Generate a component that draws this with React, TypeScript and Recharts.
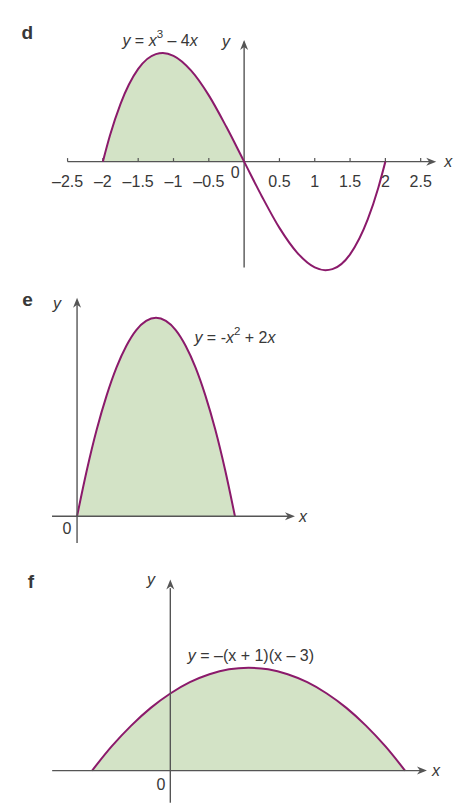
import { ComposedChart, Line, Area, XAxis, YAxis, ReferenceLine, ReferenceDot } from 'recharts';

// panel d: y = x^3 - 4x
const dX = [-2, -1.9, -1.75, -1.5, -1.25, -1.15, -1, -0.75, -0.5, -0.25, 0, 0.25, 0.5, 0.75, 1, 1.15, 1.25, 1.5, 1.75, 1.9, 2];
const dY = [0, 0.74, 1.64, 2.63, 3.05, 3.08, 3, 2.58, 1.88, 0.98, 0, -0.98, -1.88, -2.58, -3, -3.08, -3.05, -2.63, -1.64, -0.74, 0];
const dTicks = [-2.5, -2, -1.5, -1, -0.5, 0.5, 1, 1.5, 2, 2.5];
const dTickLabels = ['–2.5', '–2', '–1.5', '–1', '–0.5', '0.5', '1', '1.5', '2', '2.5'];

// panel e: y = -x^2 + 2x
const eX = [0, 0.125, 0.25, 0.375, 0.5, 0.625, 0.75, 0.875, 1, 1.125, 1.25, 1.375, 1.5, 1.625, 1.75, 1.875, 2];
const eY = [0, 0.234, 0.438, 0.609, 0.75, 0.859, 0.938, 0.984, 1, 0.984, 0.938, 0.859, 0.75, 0.609, 0.438, 0.234, 0];

// panel f: y = -(x + 1)(x - 3)
const fX = [-1, -0.75, -0.5, -0.25, 0, 0.25, 0.5, 0.75, 1, 1.25, 1.5, 1.75, 2, 2.25, 2.5, 2.75, 3];
const fY = [0, 0.94, 1.75, 2.44, 3, 3.44, 3.75, 3.94, 4, 3.94, 3.75, 3.44, 3, 2.44, 1.75, 0.94, 0];

const CURVE = '#8b1a6b';
const FILL = '#d3e3c6';
const AXIS = '#555';
const INK = '#383838';
const FONT = '"Liberation Sans", Arial, sans-serif';

type Part = { t: string; i?: boolean; sup?: boolean };

const toPoints = (xs: number[], ys: number[]) => xs.map((x, i) => ({ x, y: ys[i] }));

const dData = toPoints(dX, dY);
const dShade = dData.filter((p) => p.x <= 0);
const eData = toPoints(eX, eY);
const fData = toPoints(fX, fY);

function renderParts(parts: Part[], size: number) {
  let lift = 0;
  return parts.map((p, i) => {
    if (p.sup) {
      lift = size * 0.4;
      return (
        <tspan key={i} dy={-lift} fontSize={size * 0.72}>
          {p.t}
        </tspan>
      );
    }
    const back = lift;
    lift = 0;
    return (
      <tspan key={i} dy={back} fontStyle={p.i ? 'italic' : 'normal'}>
        {p.t}
      </tspan>
    );
  });
}

// text anchored at a data point, shifted by pixels
function note(key: string, x: number, y: number, parts: Part[] | string, opts: any = {}) {
  const { size = 16, anchor = 'middle', weight = 400, italic = false, dx = 0, dy = 0 } = opts;
  return (
    <ReferenceDot
      key={key}
      x={x}
      y={y}
      r={0}
      fill="none"
      stroke="none"
      shape={(p: any) => (
        <text
          x={p.cx + dx}
          y={p.cy + dy}
          textAnchor={anchor}
          dominantBaseline="central"
          fontSize={size}
          fontFamily={FONT}
          fontWeight={weight}
          fontStyle={italic ? 'italic' : 'normal'}
          fill={INK}
          style={{ whiteSpace: 'pre' }}
        >
          {typeof parts === 'string' ? parts : renderParts(parts, size)}
        </text>
      )}
    />
  );
}

function arrow(key: string, x: number, y: number, dir: 'right' | 'up') {
  return (
    <ReferenceDot
      key={key}
      x={x}
      y={y}
      r={0}
      fill="none"
      stroke="none"
      shape={(p: any) => {
        const { cx, cy } = p;
        const pts =
          dir === 'right'
            ? `${cx},${cy} ${cx - 10},${cy - 4} ${cx - 7},${cy} ${cx - 10},${cy + 4}`
            : `${cx},${cy} ${cx - 4},${cy + 10} ${cx},${cy + 7} ${cx + 4},${cy + 10}`;
        return <polygon points={pts} fill={AXIS} />;
      }}
    />
  );
}

const box = (left: number, top: number): React.CSSProperties => ({ position: 'absolute', left, top });
const noMargin = { top: 0, right: 0, bottom: 0, left: 0 };

export default function App() {
  return (
    <div style={{ position: 'absolute', left: 0, top: 0, width: 456, height: 806, background: '#fff', overflow: 'hidden' }}>
      {/* d */}
      <div style={box(4, 3)}>
        <ComposedChart width={452} height={282} margin={noMargin}>
          <XAxis type="number" dataKey="x" domain={[-3.4, 3]} hide allowDataOverflow />
          <YAxis type="number" domain={[-3.5, 4.5]} hide allowDataOverflow />
          <Area data={dShade} dataKey="y" type="monotone" baseValue={0} fill={FILL} fillOpacity={1} stroke="none" isAnimationActive={false} />
          <ReferenceLine segment={[{ x: -2.5, y: 0 }, { x: 2.68, y: 0 }]} stroke={AXIS} strokeWidth={1.4} />
          <ReferenceLine segment={[{ x: 0, y: -3 }, { x: 0, y: 3.4 }]} stroke={AXIS} strokeWidth={1.4} />
          {dTicks.map((t) => (
            <ReferenceLine key={`dt${t}`} segment={[{ x: t, y: 0 }, { x: t, y: 0.1 }]} stroke={AXIS} strokeWidth={1.2} />
          ))}
          {dTicks.map((t, i) => note(`dl${t}`, t, 0, dTickLabels[i], { dy: 20 }))}
          <Line data={dData} dataKey="y" type="monotone" stroke={CURVE} strokeWidth={2} dot={false} isAnimationActive={false} />
          {arrow('dax', 2.72, 0, 'right')}
          {arrow('day', 0, 3.45, 'up')}
          {note('d0', 0, 0, '0', { dx: -9, dy: 11 })}
          {note('dxl', 2.89, 0, 'x', { italic: true })}
          {note('dyl', -0.255, 3.42, 'y', { italic: true })}
          {note('dlet', -3.07, 3.66, 'd', { size: 19, weight: 700 })}
          {note('dfx', -1.19, 3.45, [
            { t: 'y', i: true },
            { t: ' = ' },
            { t: 'x', i: true },
            { t: '3', sup: true },
            { t: ' – 4' },
            { t: 'x', i: true },
          ])}
        </ComposedChart>
      </div>

      {/* e */}
      <div style={box(6, 278)}>
        <ComposedChart width={450} height={278} margin={noMargin}>
          <XAxis type="number" dataKey="x" domain={[-0.9, 4.8]} hide allowDataOverflow />
          <YAxis type="number" domain={[-0.2, 1.2]} hide allowDataOverflow />
          <Area data={eData} dataKey="y" type="monotone" baseValue={0} fill={FILL} fillOpacity={1} stroke={CURVE} strokeWidth={2} isAnimationActive={false} />
          <ReferenceLine segment={[{ x: -0.317, y: 0 }, { x: 2.72, y: 0 }]} stroke={AXIS} strokeWidth={1.4} />
          <ReferenceLine segment={[{ x: 0, y: -0.134 }, { x: 0, y: 1.08 }]} stroke={AXIS} strokeWidth={1.4} />
          {arrow('eax', 2.76, 0, 'right')}
          {arrow('eay', 0, 1.1, 'up')}
          {note('e0', -0.127, -0.064, '0')}
          {note('exl', 2.862, 0, 'x', { italic: true })}
          {note('eyl', -0.254, 1.074, 'y', { italic: true })}
          {note('elet', -0.627, 1.094, 'e', { size: 19, weight: 700 })}
          {note('efx', 2.0, 0.903, [
            { t: 'y', i: true },
            { t: ' = -' },
            { t: 'x', i: true },
            { t: '2', sup: true },
            { t: ' + 2' },
            { t: 'x', i: true },
          ])}
        </ComposedChart>
      </div>

      {/* f */}
      <div style={box(6, 565)}>
        <ComposedChart width={446} height={239} margin={noMargin}>
          <XAxis type="number" dataKey="x" domain={[-2.1, 3.6]} hide allowDataOverflow />
          <YAxis type="number" domain={[-1.3, 8]} hide allowDataOverflow />
          <Area data={fData} dataKey="y" type="monotone" baseValue={0} fill={FILL} fillOpacity={1} stroke={CURVE} strokeWidth={2} isAnimationActive={false} />
          <ReferenceLine segment={[{ x: -1.51, y: 0 }, { x: 3.24, y: 0 }]} stroke={AXIS} strokeWidth={1.4} />
          <ReferenceLine segment={[{ x: 0, y: -1.25 }, { x: 0, y: 7.1 }]} stroke={AXIS} strokeWidth={1.4} />
          {arrow('fax', 3.28, 0, 'right')}
          {arrow('fay', 0, 7.44, 'up')}
          {note('f0', -0.119, -0.56, '0')}
          {note('fxl', 3.395, 0, 'x', { italic: true })}
          {note('fyl', -0.247, 7.455, 'y', { italic: true })}
          {note('flet', -1.78, 7.37, 'f', { size: 19, weight: 700 })}
          {note('ffx', 1.03, 4.5, [
            { t: 'y', i: true },
            { t: ' = –(x + 1)(x – 3)' },
          ])}
        </ComposedChart>
      </div>
    </div>
  );
}
